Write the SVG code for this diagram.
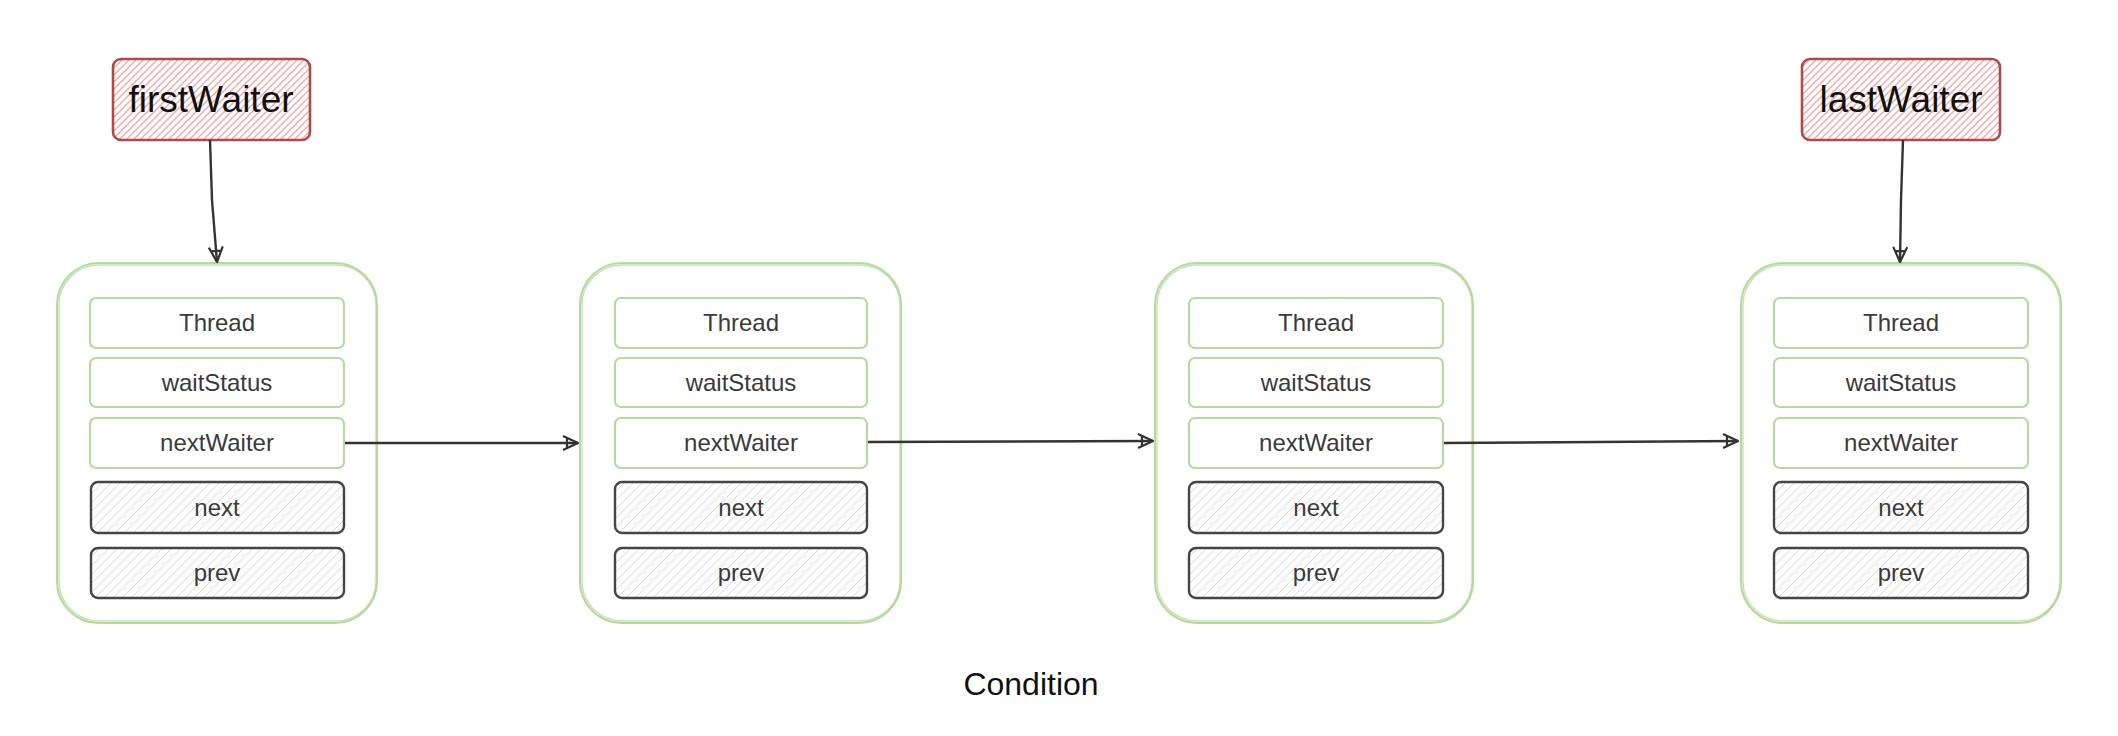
<svg xmlns="http://www.w3.org/2000/svg" width="2118" height="736" viewBox="0 0 2118 736">
<defs>
<pattern id="hRed" patternUnits="userSpaceOnUse" width="7" height="7">
<path d="M-1,8 L8,-1 M-3,3 L3,-3 M4,10 L10,4" stroke="#eeaaaa" stroke-width="1.4"/>
</pattern>
<pattern id="hGray" patternUnits="userSpaceOnUse" width="9" height="9">
<path d="M-1,10 L10,-1 M-3,3 L3,-3 M6,12 L12,6" stroke="#d9d9d9" stroke-width="1"/>
</pattern>
<marker id="arr" viewBox="0 0 18 18" refX="17" refY="9" markerWidth="18" markerHeight="18" markerUnits="userSpaceOnUse" orient="auto">
<path d="M2,2 L17,9 L2,16 M6,4 L6,14" fill="none" stroke="#333" stroke-width="2.2" stroke-linejoin="round"/>
</marker>
</defs>
<style>
.cont{fill:#fff;stroke:#b6d99f;stroke-width:2.2}
.cont2{fill:none;stroke:#b6d99f;stroke-width:1.3;opacity:.8}
.row{fill:#fff;stroke:#b6d99f;stroke-width:2.2}
.grow{fill:url(#hGray);stroke:#454545;stroke-width:2.4}
.ptr{fill:url(#hRed);stroke:#b04a4a;stroke-width:2.6}
.t{font-family:"Liberation Sans","DejaVu Sans",sans-serif;font-size:24px;fill:#3a3a3a;text-anchor:middle}
.big{font-family:"Liberation Sans","DejaVu Sans",sans-serif;font-size:37px;fill:#111;text-anchor:middle}
.cap{font-family:"Liberation Sans","DejaVu Sans",sans-serif;font-size:32px;fill:#111;text-anchor:middle}
.edge{fill:none;stroke:#333;stroke-width:2.4;marker-end:url(#arr)}
</style>
<rect width="2118" height="736" fill="#fff"/>

<g id="firstWaiter">
<rect class="ptr" x="113" y="59" width="197" height="81" rx="8"/>
<text class="big" x="211" y="112">firstWaiter</text>
</g>
<g id="lastWaiter">
<rect class="ptr" x="1802" y="59" width="198" height="81" rx="8"/>
<text class="big" x="1901" y="112">lastWaiter</text>
</g>

<g id="node1">
<rect class="cont" x="57" y="263" width="320" height="360" rx="42"/>
<rect class="cont2" x="59" y="265" width="317" height="356" rx="40"/>
<rect class="row" x="90" y="298" width="254" height="50" rx="6"/><text class="t" x="217" y="331">Thread</text>
<rect class="row" x="90" y="358" width="254" height="49" rx="6"/><text class="t" x="217" y="391">waitStatus</text>
<rect class="row" x="90" y="418" width="254" height="50" rx="6"/><text class="t" x="217" y="451">nextWaiter</text>
<rect class="grow" x="91" y="482" width="253" height="51" rx="7"/><text class="t" x="217" y="516">next</text>
<rect class="grow" x="91" y="548" width="253" height="50" rx="7"/><text class="t" x="217" y="581">prev</text>
</g>

<g id="node2">
<rect class="cont" x="580" y="263" width="321" height="360" rx="42"/>
<rect class="cont2" x="582" y="265" width="318" height="356" rx="40"/>
<rect class="row" x="615" y="298" width="252" height="50" rx="6"/><text class="t" x="741" y="331">Thread</text>
<rect class="row" x="615" y="358" width="252" height="49" rx="6"/><text class="t" x="741" y="391">waitStatus</text>
<rect class="row" x="615" y="418" width="252" height="50" rx="6"/><text class="t" x="741" y="451">nextWaiter</text>
<rect class="grow" x="615" y="482" width="252" height="51" rx="7"/><text class="t" x="741" y="516">next</text>
<rect class="grow" x="615" y="548" width="252" height="50" rx="7"/><text class="t" x="741" y="581">prev</text>
</g>

<g id="node3">
<rect class="cont" x="1155" y="263" width="318" height="360" rx="42"/>
<rect class="cont2" x="1157" y="265" width="315" height="356" rx="40"/>
<rect class="row" x="1189" y="298" width="254" height="50" rx="6"/><text class="t" x="1316" y="331">Thread</text>
<rect class="row" x="1189" y="358" width="254" height="49" rx="6"/><text class="t" x="1316" y="391">waitStatus</text>
<rect class="row" x="1189" y="418" width="254" height="50" rx="6"/><text class="t" x="1316" y="451">nextWaiter</text>
<rect class="grow" x="1189" y="482" width="254" height="51" rx="7"/><text class="t" x="1316" y="516">next</text>
<rect class="grow" x="1189" y="548" width="254" height="50" rx="7"/><text class="t" x="1316" y="581">prev</text>
</g>

<g id="node4">
<rect class="cont" x="1741" y="263" width="320" height="360" rx="42"/>
<rect class="cont2" x="1743" y="265" width="317" height="356" rx="40"/>
<rect class="row" x="1774" y="298" width="254" height="50" rx="6"/><text class="t" x="1901" y="331">Thread</text>
<rect class="row" x="1774" y="358" width="254" height="49" rx="6"/><text class="t" x="1901" y="391">waitStatus</text>
<rect class="row" x="1774" y="418" width="254" height="50" rx="6"/><text class="t" x="1901" y="451">nextWaiter</text>
<rect class="grow" x="1774" y="482" width="254" height="51" rx="7"/><text class="t" x="1901" y="516">next</text>
<rect class="grow" x="1774" y="548" width="254" height="50" rx="7"/><text class="t" x="1901" y="581">prev</text>
</g>

<g id="connectors">
<path class="edge" d="M210,140 L212,200 L217,262"/>
<path class="edge" d="M1903,140 L1901,200 L1900,262"/>
<path class="edge" d="M345,443 L578,443"/>
<path class="edge" d="M868,442 L1153,441"/>
<path class="edge" d="M1444,443 L1738,441"/>
</g>

<text class="cap" x="1031" y="695">Condition</text>
</svg>
